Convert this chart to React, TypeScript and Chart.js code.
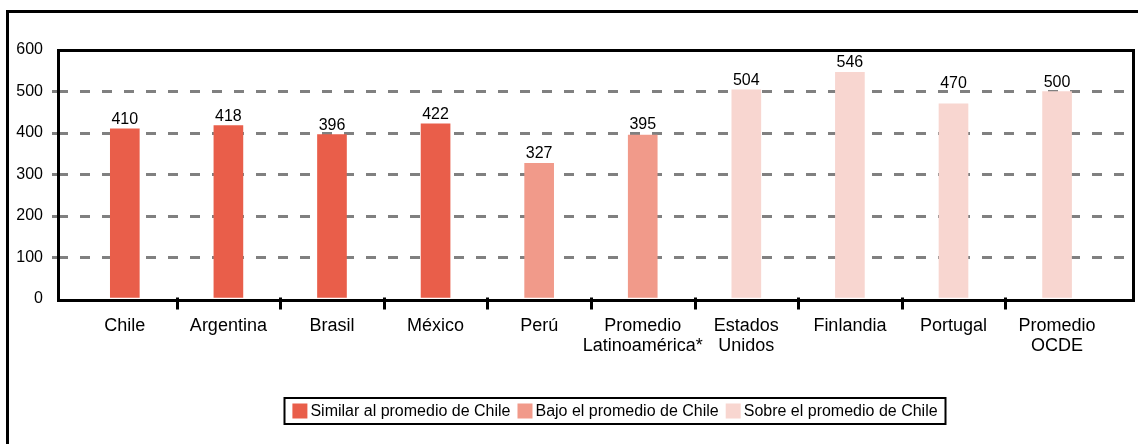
import React, { useEffect, useRef } from "react";
import { Chart, registerables } from "chart.js";

Chart.register(...registerables);

const CATEGORIES: string[][] = [
  ["Chile"],
  ["Argentina"],
  ["Brasil"],
  ["México"],
  ["Perú"],
  ["Promedio", "Latinoamérica*"],
  ["Estados", "Unidos"],
  ["Finlandia"],
  ["Portugal"],
  ["Promedio", "OCDE"],
];
const VALUES = [410, 418, 396, 422, 327, 395, 504, 546, 470, 500];
// 0 = similar, 1 = bajo, 2 = sobre
const GROUP = [0, 0, 0, 0, 1, 1, 2, 2, 2, 2];
const GROUP_LABELS = [
  "Similar al promedio de Chile",
  "Bajo el promedio de Chile",
  "Sobre el promedio de Chile",
];
const GROUP_COLORS = ["#E95E4A", "#F19A8A", "#F8D6D0"];
const Y_TICKS = [0, 100, 200, 300, 400, 500, 600];
const Y_MIN = 0;
const Y_MAX = 600;

const FONT = '"Liberation Sans", Arial, Helvetica, sans-serif';

const gridColor = (c: any) =>
  c.tick && (c.tick.value === Y_MIN || c.tick.value === Y_MAX) ? "rgba(0,0,0,0)" : "#808080";

const decorPlugin = {
  id: "decor",
  beforeDraw(chart: any) {
    const ctx = chart.ctx;
    ctx.save();
    ctx.fillStyle = "#ffffff";
    ctx.fillRect(0, 0, chart.width, chart.height);
    ctx.restore();
  },
  afterDraw(chart: any) {
    const { ctx, chartArea: a, scales } = chart;
    ctx.save();
    ctx.strokeStyle = "#000";
    ctx.lineWidth = 3;
    // outer frame (extends past the canvas on right/bottom)
    ctx.strokeRect(7.5, 11.5, chart.width + 20, chart.height + 20);
    // plot frame
    const fTop = a.top + 0.5;
    const fBottom = a.bottom + 1.5;
    ctx.strokeRect(a.left + 0.5, fTop, a.right - a.left, fBottom - fTop);
    // category boundary ticks
    const xs = scales.x;
    for (let i = 0; i < CATEGORIES.length - 1; i++) {
      const px = Math.round(xs.getPixelForValue(i + 0.5)) + 0.5;
      ctx.beginPath();
      ctx.moveTo(px, fBottom - 3);
      ctx.lineTo(px, fBottom + 9);
      ctx.stroke();
    }
    // value labels (moved above a gridline when they would overlap it)
    const ys = scales.y;
    const gridYs = Y_TICKS.map((v) => ys.getPixelForValue(v));
    const meta = chart.getDatasetMeta(0);
    ctx.font = `16px ${FONT}`;
    ctx.fillStyle = "#000";
    ctx.textAlign = "center";
    ctx.textBaseline = "alphabetic";
    meta.data.forEach((el: any, i: number) => {
      let base = el.y - 5;
      for (const gy of gridYs) {
        if (gy > base - 12 && gy < base + 3) base = gy - 4;
      }
      ctx.fillText(String(VALUES[i]), el.x, base);
    });
    // legend
    ctx.font = `16px ${FONT}`;
    ctx.textAlign = "left";
    ctx.textBaseline = "middle";
    const sq = 15;
    const gapSq = 3;
    const gapItem = 7;
    const widths = GROUP_LABELS.map((t) => ctx.measureText(t).width);
    const total =
      widths.reduce((s, w) => s + w, 0) +
      GROUP_LABELS.length * (sq + gapSq) +
      (GROUP_LABELS.length - 1) * gapItem;
    const cx = 615;
    const cy = 411;
    let x = cx - total / 2;
    ctx.lineWidth = 2;
    ctx.strokeStyle = "#000";
    ctx.strokeRect(Math.round(x - 8) + 0.5, cy - 13, Math.round(total + 16), 26);
    GROUP_LABELS.forEach((t, i) => {
      ctx.fillStyle = GROUP_COLORS[i];
      ctx.fillRect(x, cy - sq / 2, sq, sq);
      x += sq + gapSq;
      ctx.fillStyle = "#000";
      ctx.fillText(t, x, cy + 1);
      x += widths[i] + gapItem;
    });
    ctx.restore();
  },
};

export default function App() {
  const ref = useRef<HTMLCanvasElement | null>(null);
  useEffect(() => {
    if (!ref.current) return;
    const chart = new Chart(ref.current, {
      type: "bar",
      data: {
        datasets: [
          {
            data: VALUES.map((v, i) => ({ x: i, y: v })),
            backgroundColor: GROUP.map((g) => GROUP_COLORS[g]),
            borderWidth: 0,
            barThickness: 29,
          } as any,
        ],
      },
      options: {
        responsive: false,
        animation: false,
        devicePixelRatio: 1,
        layout: { padding: { left: 6, top: 50, right: 5, bottom: 85 } },
        plugins: {
          legend: { display: false },
          tooltip: { enabled: false },
          title: { display: false },
        },
        scales: {
          x: {
            type: "linear",
            offset: false,
            bounds: "data",
            min: -0.645,
            max: 9.733,
            afterBuildTicks: (scale: any) => {
              scale.ticks = CATEGORIES.map((_, i) => ({ value: i }));
            },
            afterFit: (scale: any) => {
              scale.height = 60;
            },
            grid: { display: false, drawTicks: false, offset: false },
            border: { display: false },
            ticks: {
              autoSkip: false,
              maxRotation: 0,
              minRotation: 0,
              padding: 17,
              color: "#000",
              font: { family: FONT, size: 18, lineHeight: 1.11 },
              callback: (v: any) => CATEGORIES[Number(v)] ?? "",
            },
          },
          y: {
            min: Y_MIN,
            max: Y_MAX,
            afterBuildTicks: (scale: any) => {
              scale.ticks = Y_TICKS.map((v) => ({ value: v }));
            },
            afterFit: (scale: any) => {
              scale.width = 52;
            },
            grid: {
              color: gridColor,
              lineWidth: 3,
              drawTicks: true,
              tickLength: 6,
              tickColor: gridColor,
              tickWidth: 3,
              tickBorderDash: [],
            },
            border: { display: false, dash: [10, 12], dashOffset: 0 },
            ticks: {
              padding: 9,
              color: "#000",
              font: { family: FONT, size: 16 },
            },
          },
        },
      },
      plugins: [decorPlugin],
    } as any);
    return () => chart.destroy();
  }, []);
  return (
    <div style={{ position: "absolute", left: 0, top: 0, width: 1138, height: 444 }}>
      <canvas ref={ref} width={1138} height={444} style={{ display: "block" }} />
    </div>
  );
}
